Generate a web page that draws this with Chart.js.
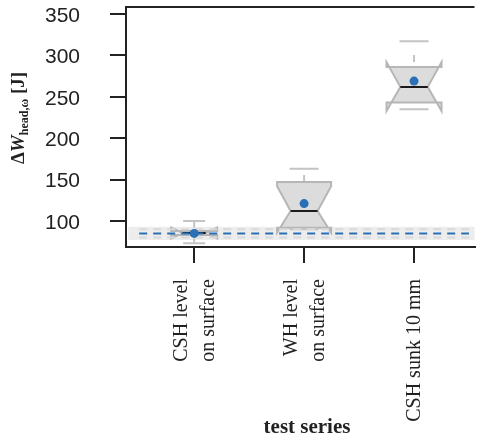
<!DOCTYPE html>
<html>
<head>
<meta charset="utf-8">
<script src="https://cdn.jsdelivr.net/npm/chart.js@4.4.1/dist/chart.umd.min.js"></script>
<style>
  html, body { margin: 0; padding: 0; background: #fff; }
</style>
</head>
<body>
<canvas id="box-chart" width="479" height="438"></canvas>
<script>
// values
const categories = [["CSH level", "on surface"], ["WH level", "on surface"], ["CSH sunk 10 mm"]];
const whiskerLow = [73, 90, 235];
const q1 = [83, 92, 243];
const medians = [85.5, 112, 262];
const q3 = [88, 147, 286];
const whiskerHigh = [100, 163, 317];
const notchLow = [79, 86, 233];
const notchHigh = [92, 142, 292];
const means = [85, 121, 269];
const refValue = 85;
const refBand = [77, 93];
const refLimits = [80, 90];
const yTicks = [100, 150, 200, 250, 300, 350];

// sizes (px)
const boxHalfWidth = [23, 27, 27.5];
const capHalfWidth = [11, 14.5, 14.5];

const blue = '#2a70b6';
const ink = '#222222';

const boxPlugin = {
  id: 'notchedBoxes',
  beforeDatasetsDraw(chart) {
    const {ctx, chartArea, scales: {x, y}} = chart;
    const py = v => y.getPixelForValue(v);
    ctx.save();
    ctx.beginPath();
    ctx.rect(chartArea.left, chartArea.top, chartArea.right - chartArea.left, chartArea.bottom - chartArea.top);
    ctx.clip();

    // reference band
    const bx0 = x.getPixelForValue(0.4), bx1 = x.getPixelForValue(3.6);
    ctx.fillStyle = '#ededed';
    ctx.fillRect(bx0, py(refBand[1]), bx1 - bx0, py(refBand[0]) - py(refBand[1]));

    categories.forEach((c, i) => {
      const cx = x.getPixelForValue(i + 1);
      const hw = boxHalfWidth[i], inset = hw / 2, cap = capHalfWidth[i];
      const L = cx - hw, R = cx + hw;

      // whiskers (dashed)
      ctx.strokeStyle = '#c4c4c4';
      ctx.lineWidth = 2;
      ctx.setLineDash([7, 14]);
      const top = Math.max(q3[i], notchHigh[i]);
      const bot = Math.min(q1[i], notchLow[i]);
      if (whiskerHigh[i] > top) {
        ctx.beginPath(); ctx.moveTo(cx, py(top)); ctx.lineTo(cx, py(whiskerHigh[i])); ctx.stroke();
      }
      if (whiskerLow[i] < bot) {
        ctx.beginPath(); ctx.moveTo(cx, py(bot)); ctx.lineTo(cx, py(whiskerLow[i])); ctx.stroke();
      }
      ctx.setLineDash([]);

      // notched box
      const pts = [
        [L, q1[i]], [L, notchLow[i]], [L + inset, medians[i]], [L, notchHigh[i]], [L, q3[i]],
        [R, q3[i]], [R, notchHigh[i]], [R - inset, medians[i]], [R, notchLow[i]], [R, q1[i]]
      ];
      ctx.beginPath();
      pts.forEach((p, k) => k ? ctx.lineTo(p[0], py(p[1])) : ctx.moveTo(p[0], py(p[1])));
      ctx.closePath();
      ctx.fillStyle = '#dcdcdd';
      ctx.fill();
      ctx.strokeStyle = '#b6b6b6';
      ctx.lineWidth = 2;
      ctx.lineJoin = 'miter';
      ctx.stroke();

      // median
      ctx.strokeStyle = '#1a1a1a';
      ctx.lineWidth = 2;
      ctx.beginPath(); ctx.moveTo(L + inset, py(medians[i])); ctx.lineTo(R - inset, py(medians[i])); ctx.stroke();

      // staples
      ctx.strokeStyle = '#c4c4c4';
      ctx.beginPath();
      ctx.moveTo(cx - cap, py(whiskerHigh[i])); ctx.lineTo(cx + cap, py(whiskerHigh[i]));
      ctx.moveTo(cx - cap, py(whiskerLow[i])); ctx.lineTo(cx + cap, py(whiskerLow[i]));
      ctx.stroke();
    });
    ctx.restore();
  },
  afterDraw(chart) {
    const {ctx, chartArea, scales: {x}} = chart;
    ctx.save();
    // top frame line
    ctx.strokeStyle = ink;
    ctx.lineWidth = 2;
    ctx.beginPath();
    ctx.moveTo(chartArea.left - 1, chartArea.top);
    ctx.lineTo(chartArea.right, chartArea.top);
    ctx.stroke();

    // category labels, rotated
    ctx.fillStyle = ink;
    ctx.font = '20px "Liberation Serif", "DejaVu Serif", serif';
    ctx.textAlign = 'right';
    ctx.textBaseline = 'middle';
    categories.forEach((lines, i) => {
      const cx = x.getPixelForValue(i + 1);
      lines.forEach((line, k) => {
        const off = (k - (lines.length - 1) / 2) * 27 + 1;
        ctx.save();
        ctx.translate(cx + off, 279);
        ctx.rotate(-Math.PI / 2);
        ctx.fillText(line, 0, 0);
        ctx.restore();
      });
    });

    // x title
    ctx.font = 'bold 21px "Liberation Serif", serif';
    ctx.textAlign = 'center';
    ctx.fillText('test series', 307, 428);

    // y title: ΔW_head,ω [J]
    const pieces = [
      {t: 'Δ', f: 'bold 19px "Liberation Serif", serif', dy: 0},
      {t: 'W', f: 'italic bold 19px "Liberation Serif", serif', dy: 0},
      {t: 'head,ω', f: 'bold 12px "Liberation Serif", serif', dy: 4},
      {t: ' [J]', f: 'bold 19px "Liberation Serif", serif', dy: 0}
    ];
    let total = 0;
    pieces.forEach(p => { ctx.font = p.f; p.w = ctx.measureText(p.t).width; total += p.w; });
    ctx.translate(23.5, 118);
    ctx.rotate(-Math.PI / 2);
    ctx.textAlign = 'left';
    ctx.textBaseline = 'alphabetic';
    let px = -total / 2;
    pieces.forEach(p => {
      ctx.font = p.f;
      ctx.fillText(p.t, px, p.dy);
      px += p.w;
    });
    ctx.restore();
  }
};

const limitLine = v => [{x: 0.5, y: v}, {x: 3.5, y: v}];

new Chart(document.getElementById('box-chart'), {
  type: 'scatter',
  data: {
    datasets: [
      {
        label: 'mean',
        data: means.map((m, i) => ({x: i + 1, y: m})),
        pointRadius: 4.5,
        pointBackgroundColor: blue,
        pointBorderWidth: 0,
        order: 0
      },
      {
        type: 'line',
        label: 'reference',
        data: limitLine(refValue),
        borderColor: blue,
        borderWidth: 2,
        borderDash: [8, 6],
        pointRadius: 0,
        order: 1
      },
      {
        type: 'line',
        label: 'lower limit',
        data: limitLine(refLimits[0]),
        borderColor: '#d9d9d9',
        borderWidth: 2,
        borderDash: [8, 6],
        pointRadius: 0,
        order: 2
      },
      {
        type: 'line',
        label: 'upper limit',
        data: limitLine(refLimits[1]),
        borderColor: '#d9d9d9',
        borderWidth: 2,
        borderDash: [8, 6],
        pointRadius: 0,
        order: 2
      }
    ]
  },
  options: {
    responsive: false,
    animation: false,
    events: [],
    devicePixelRatio: 1,
    layout: { padding: { top: 7, right: 0, bottom: 0, left: 0 } },
    plugins: { legend: { display: false }, tooltip: { enabled: false } },
    scales: {
      x: {
        type: 'linear',
        min: 0.38,
        max: 3.55,
        afterBuildTicks: axis => { axis.ticks = [1, 2, 3].map(v => ({value: v})); },
        afterFit: axis => { axis.height = 191; axis.paddingLeft = 0; axis.paddingRight = 0; },
        ticks: { display: false },
        grid: { drawOnChartArea: false, tickLength: 16, color: ink, lineWidth: 2 },
        border: { display: true, color: ink, width: 2 }
      },
      y: {
        min: 68.6,
        max: 358.5,
        afterBuildTicks: axis => { axis.ticks = yTicks.map(v => ({value: v})); },
        afterFit: axis => { axis.width = 126; axis.paddingTop = 0; axis.paddingBottom = 0; },
        ticks: {
          font: { family: '"Liberation Sans", Arial, sans-serif', size: 21 },
          color: ink,
          padding: 30,
          labelOffset: 2
        },
        grid: { drawOnChartArea: false, tickLength: 16, color: ink, lineWidth: 2 },
        border: { display: true, color: ink, width: 2 }
      }
    }
  },
  plugins: [boxPlugin]
});
</script>
</body>
</html>
